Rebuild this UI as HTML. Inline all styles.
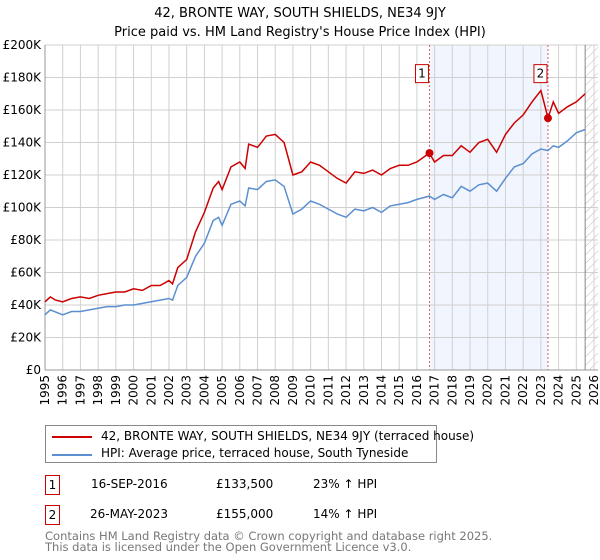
<!DOCTYPE html>
<html><head><meta charset="utf-8"><style>
body{margin:0;background:#fff;font-family:"DejaVu Sans","Liberation Sans",sans-serif;}
#wrap{position:relative;width:600px;height:560px;overflow:hidden}
svg text{font-family:"DejaVu Sans","Liberation Sans",sans-serif}
.abs{position:absolute;font-size:12px;color:#000;white-space:nowrap}
</style></head><body>
<div id="wrap">
<svg id="chart" width="600" height="420" style="position:absolute;left:0;top:0">
<text x="300" y="17" text-anchor="middle" font-size="13">42, BRONTE WAY, SOUTH SHIELDS, NE34 9JY</text>
<text x="300" y="36" text-anchor="middle" font-size="13">Price paid vs. HM Land Registry's House Price Index (HPI)</text>
<defs><pattern id="hatch" width="6" height="6" patternUnits="userSpaceOnUse" patternTransform="rotate(45)"><line x1="0" y1="0" x2="0" y2="6" stroke="#bbb" stroke-width="1"/></pattern></defs>
<g id="grid"></g><g id="marks"></g>
</svg>
<div class="abs" style="left:45px;top:425px;width:390px;height:36px;border:1px solid #888;">
 <div style="position:absolute;left:6px;top:10px;width:40px;height:2px;background:#cc0000"></div>
 <div style="position:absolute;left:55px;top:3px">42, BRONTE WAY, SOUTH SHIELDS, NE34 9JY (terraced house)</div>
 <div style="position:absolute;left:6px;top:28px;width:40px;height:2px;background:#5b8fd0"></div>
 <div style="position:absolute;left:55px;top:20px">HPI: Average price, terraced house, South Tyneside</div>
</div>
<div class="abs" style="left:45px;top:475px;width:13px;height:18px;border:1px solid #cc0000;text-align:center;line-height:18px">1</div>
<div class="abs" style="left:91px;top:477px">16-SEP-2016</div>
<div class="abs" style="left:216px;top:477px">£133,500</div>
<div class="abs" style="left:313px;top:477px">23% ↑ HPI</div>
<div class="abs" style="left:45px;top:505px;width:13px;height:18px;border:1px solid #cc0000;text-align:center;line-height:18px">2</div>
<div class="abs" style="left:90px;top:507px">26-MAY-2023</div>
<div class="abs" style="left:216px;top:507px">£155,000</div>
<div class="abs" style="left:313px;top:507px">14% ↑ HPI</div>
<div class="abs" style="left:45px;top:531px;font-size:11.5px;color:#777;line-height:11px">Contains HM Land Registry data © Crown copyright and database right 2025.<br>This data is licensed under the Open Government Licence v3.0.</div>
</div>
<script>
const redYears=[1995,1995.3,1995.6,1996,1996.5,1997,1997.5,1998,1998.5,1999,1999.5,2000,2000.5,2001,2001.5,2002,2002.2,2002.5,2003,2003.5,2004,2004.5,2004.8,2005,2005.5,2006,2006.3,2006.5,2007,2007.5,2008,2008.5,2009,2009.5,2010,2010.5,2011,2011.5,2012,2012.5,2013,2013.5,2014,2014.5,2015,2015.5,2016,2016.7,2017,2017.5,2018,2018.5,2019,2019.5,2020,2020.5,2021,2021.5,2022,2022.5,2023,2023.4,2023.7,2024,2024.5,2025,2025.5];
const redVals=[42,45,43,42,44,45,44,46,47,48,48,50,49,52,52,55,53,63,68,85,97,112,116,111,125,128,124,139,137,144,145,140,120,122,128,126,122,118,115,122,121,123,120,124,126,126,128,133.5,128,132,132,138,134,140,142,134,145,152,157,165,172,155,165,158,162,165,170];
const hpiYears=[1995,1995.3,1996,1996.5,1997,1997.5,1998,1998.5,1999,1999.5,2000,2000.5,2001,2001.5,2002,2002.2,2002.5,2003,2003.5,2004,2004.5,2004.8,2005,2005.5,2006,2006.3,2006.5,2007,2007.5,2008,2008.5,2009,2009.5,2010,2010.5,2011,2011.5,2012,2012.5,2013,2013.5,2014,2014.5,2015,2015.5,2016,2016.7,2017,2017.5,2018,2018.5,2019,2019.5,2020,2020.5,2021,2021.5,2022,2022.5,2023,2023.4,2023.7,2024,2024.5,2025,2025.5];
const hpiVals=[34,37,34,36,36,37,38,39,39,40,40,41,42,43,44,43,52,57,70,78,92,94,89,102,104,101,112,111,116,117,113,96,99,104,102,99,96,94,99,98,100,97,101,102,103,105,107,105,108,106,113,110,114,115,110,118,125,127,133,136,135,138,137,141,146,148];
const sales=[[2016.71,133.5,"1"],[2023.4,155,"2"]];
const yTicks=[0,20,40,60,80,100,120,140,160,180,200];
const x0=45,x1=594,y0=370,y1=45;
const X=t=>x0+(t-1995)/31*(x1-x0);
const Y=v=>y0-v/200*(y0-y1);
const NS="http://www.w3.org/2000/svg";
const grid=document.getElementById('grid'),marks=document.getElementById('marks');
function el(tag,attrs,parent){const e=document.createElementNS(NS,tag);for(const k in attrs)e.setAttribute(k,attrs[k]);parent.appendChild(e);return e;}
let r=el('rect',{x:X(2016.71),y:y1,width:X(2023.4)-X(2016.71),height:y0-y1,fill:'#eef3fc',opacity:0.8},grid);


r=el('rect',{x:X(2025.5),y:y1,width:x1+4-X(2025.5),height:y0-y1,fill:'url(#hatch)'},grid);


for(let yr=1995;yr<=2026;yr++){
 const l=el('line',{x1:X(yr),x2:X(yr),y1:y1,y2:y0,stroke:'#d0d0d0'},grid);
 
 
 const t=el('text',{transform:`translate(${X(yr)+4},${y0+5}) rotate(-90)`,'text-anchor':'end','font-size':12},grid);
 t.textContent=yr;
 
 
}
yTicks.forEach(v=>{
 const l=el('line',{x1:x0,x2:x1+4,y1:Y(v),y2:Y(v),stroke:'#d0d0d0'},grid);
 
 
 const t=el('text',{x:x0-4,y:Y(v)+4,'text-anchor':'end','font-size':12},grid);
 t.textContent=v===0?'£0':'£'+v+'K';
 
 
});
let a=el('line',{x1:x0,x2:x0,y1:y1,y2:y0,stroke:'#999'},grid);


a=el('line',{x1:x0,x2:x1+4,y1:y0,y2:y0,stroke:'#999'},grid);


a=el('line',{x1:X(2025.5),x2:X(2025.5),y1:y1,y2:y0,stroke:'#888'},grid);


sales.forEach(s=>{
 const l=el('line',{x1:X(s[0]),x2:X(s[0]),y1:y1,y2:y0,stroke:'#e06060','stroke-dasharray':'2,2'},marks);
 
 
});
function path(xs,vs,color,name){
 const p=el('path',{d:xs.map((t,i)=>(i?'L':'M')+X(t).toFixed(1)+','+Y(vs[i]).toFixed(1)).join(''),fill:'none',stroke:color,'stroke-width':1.5},marks);
 
 
}
path(hpiYears,hpiVals,'#5b8fd0','hpi-line');
path(redYears,redVals,'#cc0000','property-price-line');
sales.forEach(s=>{
 const c=el('circle',{cx:X(s[0]),cy:Y(s[1]),r:4,fill:'#cc0000'},marks);
 
 
 const b=el('rect',{x:X(s[0])-14,y:Y(183)-8,width:13,height:18,fill:'#fff',stroke:'#cc0000'},marks);
 
 
 const t=el('text',{x:X(s[0])-7.5,y:Y(183)+5,'text-anchor':'middle','font-size':12},marks);
 t.textContent=s[2];
 
 
});
</script>
</body></html>
